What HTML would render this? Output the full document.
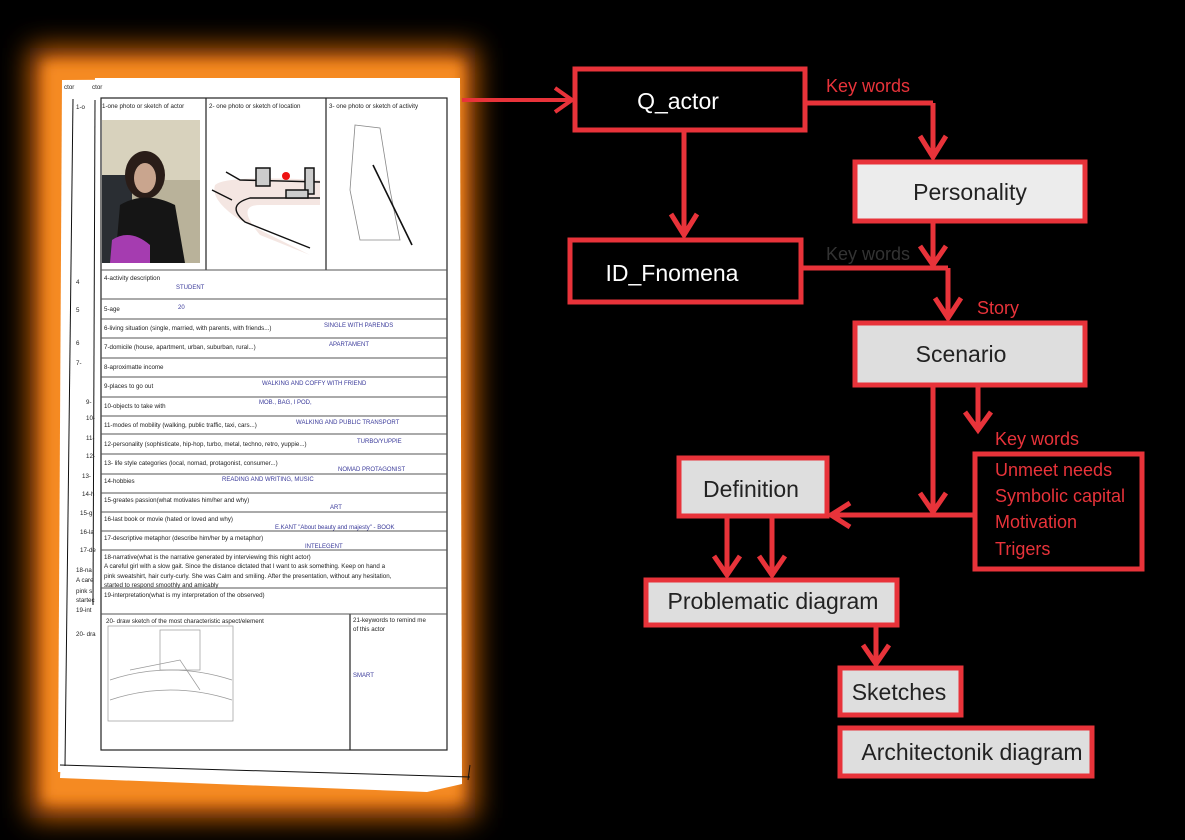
<!DOCTYPE html>
<html><head><meta charset="utf-8"><style>
html,body{margin:0;padding:0;background:#000;}
svg{display:block}
.t{font-family:"Liberation Sans",sans-serif;}
.f{font-family:"Liberation Sans",sans-serif;font-size:6.2px;fill:#222}
.b{font-family:"Liberation Sans",sans-serif;font-size:6px;fill:#3a3a9a}
</style></head><body>
<svg width="1185" height="840" viewBox="0 0 1185 840" xmlns="http://www.w3.org/2000/svg">
<defs>
<filter id="blur" x="-20%" y="-20%" width="140%" height="140%"><feGaussianBlur stdDeviation="14"/></filter>
<filter id="blur2" x="-20%" y="-20%" width="140%" height="140%"><feGaussianBlur stdDeviation="6"/></filter>
</defs>
<rect width="1185" height="840" fill="#000"/>
<rect x="30" y="48" width="445" height="770" fill="#d8690f" filter="url(#blur)"/>
<rect x="44" y="62" width="418" height="740" fill="#f58a22" filter="url(#blur2)"/>
<polygon points="62,80 452,78 456,780 58,772" fill="#fff"/>
<polygon points="95,78 460,78 462,784 427,792 60,778" fill="#fff"/>
<g stroke="#111" stroke-width="1" fill="none">
<line x1="73" y1="99" x2="65" y2="766"/>
<line x1="95" y1="100" x2="93" y2="605"/>
<line x1="60" y1="765" x2="470" y2="777"/>
<line x1="470" y1="765" x2="468" y2="780"/>
</g>
<text x="64" y="89" class="f">ctor</text><text x="92" y="89" class="f">ctor</text>
<text x="76" y="109" class="f">1-o</text>
<g class="f"><text x="76" y="284">4</text><text x="76" y="312">5</text><text x="76" y="345">6</text><text x="76" y="365">7-</text><text x="86" y="404">9-</text><text x="86" y="420">10-</text><text x="86" y="440">11-</text><text x="86" y="458">12-</text><text x="82" y="478">13-</text><text x="82" y="496">14-h</text><text x="80" y="515">15-g</text><text x="80" y="534">16-la</text><text x="80" y="552">17-de</text><text x="76" y="572">18-na</text><text x="76" y="582">A care</text><text x="76" y="593">pink s</text><text x="76" y="602">startec</text><text x="76" y="612">19-int</text><text x="76" y="636">20- dra</text></g>
<g stroke="#222" stroke-width="1.2" fill="none">
<rect x="101" y="98" width="346" height="652"/>
<line x1="206" y1="98" x2="206" y2="270"/>
<line x1="326" y1="98" x2="326" y2="270"/>
<line x1="350" y1="614" x2="350" y2="750"/>
</g>
<g stroke="#555" stroke-width="0.9">
<line x1="101" y1="270" x2="447" y2="270"/>
<line x1="101" y1="299" x2="447" y2="299"/>
<line x1="101" y1="319" x2="447" y2="319"/>
<line x1="101" y1="338" x2="447" y2="338"/>
<line x1="101" y1="358" x2="447" y2="358"/>
<line x1="101" y1="377" x2="447" y2="377"/>
<line x1="101" y1="397" x2="447" y2="397"/>
<line x1="101" y1="416" x2="447" y2="416"/>
<line x1="101" y1="434" x2="447" y2="434"/>
<line x1="101" y1="454" x2="447" y2="454"/>
<line x1="101" y1="474" x2="447" y2="474"/>
<line x1="101" y1="493" x2="447" y2="493"/>
<line x1="101" y1="512" x2="447" y2="512"/>
<line x1="101" y1="531" x2="447" y2="531"/>
<line x1="101" y1="550" x2="447" y2="550"/>
<line x1="101" y1="588" x2="447" y2="588"/>
<line x1="101" y1="614" x2="447" y2="614"/>
</g>
<text x="102" y="108" class="f">1-one photo or sketch of  actor</text>
<text x="209" y="108" class="f">2- one photo or sketch of  location</text>
<text x="329" y="108" class="f">3- one photo or sketch of activity</text>
<rect x="102" y="120" width="98" height="143" fill="#b9b29a"/>
<rect x="102" y="120" width="98" height="60" fill="#d8d2bd"/>
<rect x="102" y="175" width="30" height="88" fill="#2a2e33"/>
<ellipse cx="145" cy="175" rx="20" ry="24" fill="#2a1d18"/>
<ellipse cx="145" cy="178" rx="11" ry="15" fill="#c9a58e"/>
<path d="M120 205 Q145 190 175 205 L185 263 L115 263 Z" fill="#151515"/>
<path d="M112 240 Q130 228 150 245 L150 263 L110 263 Z" fill="#a53cb0"/>
<path d="M215 185 Q225 175 320 180 L320 205 L260 205 Q235 205 260 235 L310 255 L240 220 Q210 200 215 185 Z" fill="#f4e6e2"/>
<path d="M226 172 L240 180 L320 182 M320 198 L250 198 Q225 205 245 222 L310 248 M212 190 L232 200" stroke="#111" stroke-width="1.4" fill="none"/>
<rect x="256" y="168" width="14" height="18" fill="#ccc" stroke="#111" stroke-width="1.5"/>
<rect x="305" y="168" width="9" height="26" fill="#ccc" stroke="#111" stroke-width="1.5"/>
<rect x="286" y="190" width="22" height="8" fill="#ccc" stroke="#111" stroke-width="1.5"/>
<circle cx="286" cy="176" r="4" fill="#e11"/>
<path d="M355 125 L380 128 L390 190 L400 240 L360 240 L350 190 Z" fill="none" stroke="#888" stroke-width="0.8"/>
<line x1="373" y1="165" x2="412" y2="245" stroke="#111" stroke-width="1.6"/>
<g class="f">
<text x="104" y="280">4-activity description</text>
<text x="104" y="311">5-age</text>
<text x="104" y="330">6-living situation (single, married, with parents, with friends...)</text>
<text x="104" y="349">7-domicile (house, apartment, urban, suburban, rural...)</text>
<text x="104" y="369">8-aproximatte income</text>
<text x="104" y="388">9-places to go out</text>
<text x="104" y="408">10-objects to take with</text>
<text x="104" y="427">11-modes of mobility (walking, public traffic, taxi, cars...)</text>
<text x="104" y="446">12-personality (sophisticate, hip-hop, turbo, metal, techno, retro, yuppie...)</text>
<text x="104" y="465">13- life style categories (local, nomad, protagonist, consumer...)</text>
<text x="104" y="483">14-hobbies</text>
<text x="104" y="502">15-greates passion(what motivates him/her and why)</text>
<text x="104" y="521">16-last book or movie (hated or loved and why)</text>
<text x="104" y="540">17-descriptive metaphor (describe him/her by a metaphor)</text>
<text x="104" y="559">18-narrative(what is the narrative generated by interviewing this night actor)</text>
<text x="104" y="568">A careful girl with a slow gait. Since the distance dictated that I want to ask something. Keep on hand a</text>
<text x="104" y="578">pink sweatshirt, hair curly-curly. She was Calm and smiling. After the presentation, without any hesitation,</text>
<text x="104" y="587">started to respond smoothly and amicably</text>
<text x="104" y="597">19-interpretation(what is my interpretation of the observed)</text>
<text x="106" y="623">20- draw sketch of the most characteristic aspect/element</text>
<text x="353" y="622">21-keywords to remind me</text>
<text x="353" y="631">of this actor</text>
</g>
<g class="b">
<text x="176" y="289">STUDENT</text>
<text x="178" y="309">20</text>
<text x="324" y="327">SINGLE WITH PARENDS</text>
<text x="329" y="346">APARTAMENT</text>
<text x="262" y="385">WALKING AND COFFY WITH FRIEND</text>
<text x="259" y="404">MOB., BAG, I POD,</text>
<text x="296" y="424">WALKING AND PUBLIC TRANSPORT</text>
<text x="357" y="443">TURBO/YUPPIE</text>
<text x="338" y="471">NOMAD PROTAGONIST</text>
<text x="222" y="481">READING AND WRITING, MUSIC</text>
<text x="330" y="509">ART</text>
<text x="275" y="529">E.KANT "About beauty and majesty" - BOOK</text>
<text x="305" y="548">INTELEGENT</text>
<text x="353" y="677">SMART</text>
</g>
<g stroke="#999" stroke-width="0.7" fill="none">
<rect x="108" y="626" width="125" height="95"/>
<rect x="160" y="630" width="40" height="40"/>
<path d="M110 680 Q170 660 232 680 M110 700 Q170 680 232 700 M130 670 L180 660 L200 690"/>
</g>
<line x1="462" y1="100" x2="570" y2="100" stroke="#e8333a" stroke-width="4"/>
<polyline points="555,88 572,100 555,112" stroke="#e8333a" stroke-width="4" fill="none"/>
<g stroke="#e8333a" stroke-width="5" fill="none">
<line x1="806" y1="103" x2="933" y2="103"/>
<line x1="933" y1="103" x2="933" y2="158"/>
<polyline points="920,136 933,157 946,136"/>
<line x1="684" y1="131" x2="684" y2="236"/>
<polyline points="671,214 684,235 697,214"/>
<line x1="933" y1="222" x2="933" y2="267"/>
<polyline points="920,246 933,265 946,246"/>
<line x1="802" y1="268" x2="948" y2="268"/>
<line x1="948" y1="268" x2="948" y2="319"/>
<polyline points="935,298 948,318 961,298"/>
<line x1="933" y1="386" x2="933" y2="513"/>
<polyline points="920,493 933,512 946,493"/>
<line x1="978" y1="386" x2="978" y2="430"/>
<polyline points="965,412 978,430 991,412"/>
<line x1="973" y1="515" x2="830" y2="515"/>
<polyline points="850,503 831,515 850,527"/>
<line x1="727" y1="517" x2="727" y2="576"/>
<polyline points="714,556 727,575 740,556"/>
<line x1="772" y1="517" x2="772" y2="576"/>
<polyline points="759,556 772,575 785,556"/>
<line x1="876" y1="626" x2="876" y2="664"/>
<polyline points="863,645 876,664 889,645"/>
</g>
<g stroke="#e8333a" stroke-width="5">
<rect x="575" y="69" width="230" height="61" fill="#000"/>
<rect x="855" y="162" width="230" height="59" fill="#ececec"/>
<rect x="570" y="240" width="231" height="62" fill="#000"/>
<rect x="855" y="323" width="230" height="62" fill="#dedede"/>
<rect x="975" y="454" width="167" height="115" fill="#000"/>
<rect x="679" y="458" width="148" height="58" fill="#dedede"/>
<rect x="646" y="580" width="251" height="45" fill="#dedede"/>
<rect x="840" y="668" width="121" height="47" fill="#dedede"/>
<rect x="840" y="728" width="252" height="48" fill="#dedede"/>
</g>
<g class="t" font-size="23" text-anchor="middle">
<text x="678" y="109" fill="#fff">Q_actor</text>
<text x="970" y="200" fill="#222">Personality</text>
<text x="672" y="281" fill="#fff">ID_Fnomena</text>
<text x="961" y="362" fill="#222">Scenario</text>
<text x="751" y="497" fill="#222">Definition</text>
<text x="773" y="609" fill="#222">Problematic diagram</text>
<text x="899" y="700" fill="#222">Sketches</text>
<text x="972" y="760" fill="#222">Architectonik diagram</text>
</g>
<g class="t" font-size="18" fill="#e8333a">
<text x="826" y="92">Key words</text>
<text x="826" y="260" fill="#333">Key words</text>
<text x="977" y="314">Story</text>
<text x="995" y="445">Key words</text>
<text x="995" y="476">Unmeet needs</text>
<text x="995" y="502">Symbolic capital</text>
<text x="995" y="528">Motivation</text>
<text x="995" y="555">Trigers</text>
</g>
</svg>
</body></html>
